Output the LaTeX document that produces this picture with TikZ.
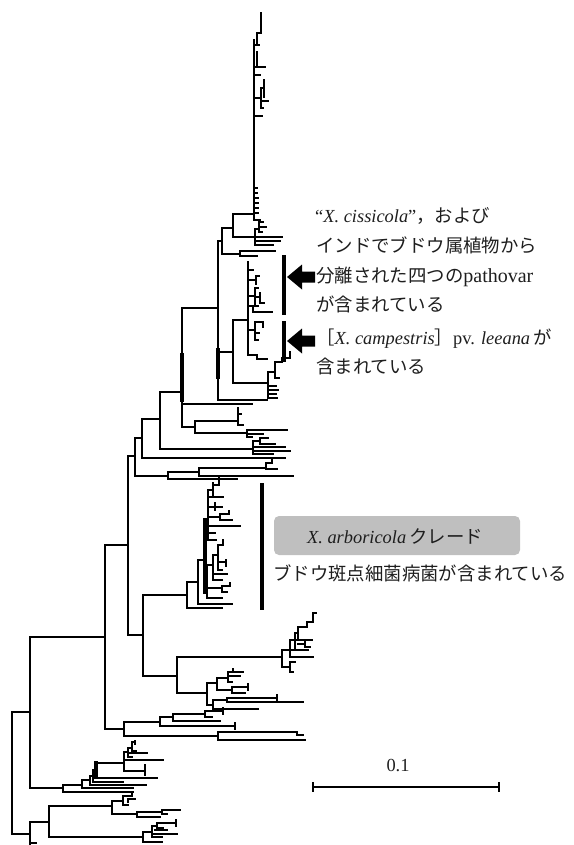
\documentclass[tikz,border=0pt]{standalone}
\usepackage{fontspec}
\setmainfont{Liberation Serif}
\newfontfamily\jp{Noto Sans CJK JP}
\definecolor{boxgray}{RGB}{191,191,191}
\definecolor{txt}{RGB}{30,30,30}
\tikzset{
  tr/.style={line width=2pt, line cap=rect},
  trk/.style={line width=3.8pt, line cap=rect},
  barline/.style={line width=4pt},
  lbl/.style={inner sep=0pt, anchor=base west, text=txt, font=\fontsize{18.4}{30}\selectfont},
  blockarrow/.style={fill=black, draw=none}
}
\newcommand\HB[3]{\draw[tr] (#2,#1) -- (#3,#1);}
\newcommand\VB[3]{\draw[tr] (#1,#2) -- (#1,#3);}
\newcommand\VK[3]{\draw[trk] (#1,#2) -- (#1,#3);}
\begin{document}
\begin{tikzpicture}[x=1pt,y=-1pt]
\useasboundingbox (0,0) rectangle (573,845);
% ---------------- backbone
\VB{12}{712}{834}
\HB{712}{12}{30}
\HB{834}{12}{30}
\VB{30}{637}{788}
\HB{637}{30}{105}
\HB{788}{30}{63}
\VB{105}{545}{729}
\HB{545}{105}{128}
\HB{729}{105}{124}
\VB{128}{456}{635}
\HB{456}{128}{135}
\HB{635}{128}{143}
\VB{135}{438}{476}
\HB{438}{135}{142}
\HB{476}{135}{168}
\VB{142}{419}{458}
\HB{419}{142}{160}
\HB{458}{142}{285}
\VB{160}{392}{449}
\HB{392}{160}{182}
\HB{449}{160}{253}
\VB{182}{308}{427}
\VK{182}{355}{400}
\HB{308}{182}{218}
\HB{404}{182}{252}
\HB{427}{182}{195}
\VB{195}{421}{433}
\HB{421}{195}{238}
\HB{433}{195}{247}
\VB{238}{408}{425}
\HB{425}{238}{243}
\HB{414}{238}{241}
\VB{247}{430}{437}
\HB{430}{247}{287}
\HB{434}{247}{263}
\HB{437}{247}{252}
% cluster 253
\VB{253}{441}{454}
\HB{441}{253}{260}
\VB{260}{438}{444}
\HB{438}{260}{268}
\HB{444}{260}{275}
\HB{447}{253}{285}
\HB{451}{253}{290}
\HB{454}{253}{273}
% node 168
\VB{168}{472}{479}
\HB{472}{168}{199}
\HB{479}{168}{237}
\VB{199}{468}{476}
\HB{468}{199}{266}
\HB{476}{199}{293}
\VB{266}{463}{469}
\HB{463}{266}{272}
\VB{272}{459}{463}
\HB{469}{266}{277}
% ---------------- node 218 (upper clades)
\VB{218}{241}{400}
\VK{218}{350}{377}
\HB{241}{218}{222}
\HB{352}{218}{233}
\HB{400}{218}{267}
\VB{222}{228}{254}
\HB{228}{222}{233}
\HB{254}{222}{240}
\VB{240}{251}{256}
\HB{251}{240}{275}
\HB{256}{240}{257}
\VB{233}{214}{237}
\HB{214}{233}{254}
\VB{255}{229}{245}
\HB{229}{255}{259}
\VB{259}{222}{232}
\HB{222}{259}{263}
\HB{227}{259}{266}
\HB{232}{259}{262}
\HB{237}{233}{282}
\HB{241}{255}{280}
\HB{245}{255}{273}
% top ladder
\VB{254}{40}{220}
\HB{220}{254}{260}
\HB{188}{254}{257}
\HB{193}{254}{257}
\HB{198}{254}{258}
\HB{203}{254}{258}
\HB{208}{254}{258}
\HB{213}{254}{258}
\HB{116}{254}{262}
\HB{98}{254}{261}
\VB{261}{88}{108}
\HB{88}{261}{264}
\VB{264}{80}{97}
\HB{101}{261}{268}
\HB{108}{261}{263}
\HB{67}{254}{265}
\VB{257}{52}{67}
\HB{75}{254}{260}
\HB{45}{254}{259}
\VB{257}{33}{45}
\HB{33}{257}{261}
\VB{261}{13}{33}
% node 233 lower
\VB{233}{320}{383}
\HB{320}{233}{248}
\HB{383}{233}{268}
\VB{248}{262}{355}
\HB{270}{248}{253}
\HB{280}{248}{256}
\VB{256}{276}{284}
\HB{276}{256}{259}
\HB{296}{248}{255}
\VB{255}{288}{305}
\HB{288}{255}{258}
\HB{297}{255}{260}
\VB{260}{293}{303}
\HB{303}{260}{264}
\VB{253}{306}{312}
\HB{306}{248}{258}
\HB{312}{253}{272}
\HB{330}{248}{255}
\VB{255}{322}{340}
\HB{322}{255}{263}
\VB{263}{322}{327}
\HB{333}{255}{259}
\HB{340}{255}{258}
\HB{355}{248}{257}
\VB{257}{355}{359}
\HB{359}{257}{267}
% node 268
\VB{268}{372}{398}
\HB{372}{268}{275}
\VB{275}{362}{378}
\HB{362}{275}{282}
\VB{282}{358}{362}
\HB{358}{282}{290}
\VB{290}{352}{358}
\HB{378}{275}{279}
\HB{386}{268}{276}
\HB{390}{268}{278}
\HB{394}{268}{276}
\HB{398}{268}{277}
% ---------------- arboricola part
\HB{595}{143}{187}
\VB{143}{595}{676}
\HB{676}{143}{177}
\VB{177}{657}{693}
\HB{657}{177}{282}
\HB{693}{177}{207}
\VB{187}{582}{608}
\HB{582}{187}{198}
\HB{608}{187}{222}
\VB{198}{560}{604}
\HB{604}{198}{232}
\HB{560}{198}{204}
\VB{204}{527}{593}
\VK{205}{520}{592}
\HB{527}{204}{208}
\HB{593}{204}{207}
\VB{208}{490}{540}
\HB{490}{208}{213}
\VB{213}{483}{497}
\HB{485}{213}{219}
\VB{219}{478}{485}
\HB{497}{208}{223}
\HB{507}{208}{222}
\VB{215}{503}{510}
\HB{517}{208}{220}
\VB{220}{514}{520}
\HB{514}{220}{229}
\VB{229}{511}{514}
\HB{520}{220}{232}
\HB{526}{208}{240}
\HB{533}{208}{215}
\HB{540}{208}{216}
\VB{207}{565}{598}
\HB{565}{207}{213}
\VB{213}{555}{580}
\HB{555}{213}{218}
\VB{218}{545}{570}
\HB{545}{218}{223}
\VB{223}{540}{545}
\HB{562}{218}{226}
\VB{226}{560}{566}
\HB{570}{218}{222}
\HB{574}{213}{227}
\HB{580}{213}{222}
\HB{588}{207}{222}
\VB{222}{586}{592}
\HB{586}{222}{230}
\VB{230}{583}{586}
\HB{592}{222}{227}
\HB{598}{207}{222}
% cluster 282
\VB{282}{650}{667}
\HB{650}{282}{308}
\VB{290}{640}{657}
\HB{640}{290}{312}
\VB{295}{633}{650}
\HB{633}{295}{298}
\VB{298}{627}{640}
\HB{627}{298}{307}
\VB{307}{622}{627}
\HB{622}{307}{313}
\VB{313}{613}{622}
\HB{613}{313}{316}
\VB{305}{641}{647}
\HB{644}{298}{305}
\HB{647}{305}{310}
\HB{657}{290}{313}
\HB{667}{282}{290}
\VB{290}{662}{672}
\HB{662}{290}{295}
\HB{672}{290}{293}
% cluster 207
\VB{207}{683}{705}
\HB{683}{207}{217}
\VB{217}{678}{690}
\HB{678}{217}{228}
\VB{228}{672}{682}
\HB{672}{228}{243}
\VB{233}{669}{672}
\HB{676}{228}{240}
\HB{682}{228}{232}
\HB{690}{217}{232}
\VB{232}{687}{693}
\HB{687}{232}{248}
\VB{248}{684}{690}
\HB{693}{232}{245}
\HB{705}{207}{213}
\VB{213}{700}{709}
\HB{700}{213}{227}
\VB{227}{698}{702}
\HB{698}{227}{277}
\VB{277}{695}{701}
\HB{702}{227}{303}
\HB{709}{213}{258}
% node 124
\VB{124}{722}{736}
\HB{722}{124}{160}
\HB{736}{124}{218}
\VB{160}{717}{726}
\HB{717}{160}{173}
\HB{726}{160}{235}
\VB{235}{723}{729}
\VB{173}{714}{721}
\HB{714}{173}{205}
\HB{721}{173}{220}
\VB{205}{711}{717}
\HB{711}{205}{223}
\VB{223}{708}{714}
\HB{717}{205}{212}
\VB{218}{732}{740}
\HB{732}{218}{297}
\VB{297}{732}{735}
\HB{735}{297}{303}
\HB{740}{218}{305}
% lower group 63
\VB{63}{785}{792}
\HB{785}{63}{82}
\HB{792}{63}{133}
\VB{82}{780}{788}
\HB{780}{82}{90}
\HB{788}{82}{133}
\VB{90}{776}{785}
\HB{776}{90}{93}
\HB{785}{90}{146}
\VB{93}{770}{782}
\HB{770}{93}{96}
\HB{778}{93}{157}
\HB{782}{93}{123}
\VK{96}{763}{775}
\HB{763}{96}{124}
\VB{124}{752}{771}
\HB{752}{124}{128}
\VB{128}{748}{757}
\HB{748}{128}{132}
\VB{132}{742}{751}
\HB{742}{132}{135}
\VB{135}{741}{744}
\HB{751}{132}{136}
\HB{753}{128}{147}
\HB{757}{128}{132}
\HB{760}{124}{163}
\HB{771}{124}{145}
\VB{145}{765}{775}
% bottom group
\VB{30}{822}{845}
\HB{822}{30}{49}
\HB{843}{30}{36}
\VB{49}{806}{837}
\HB{806}{49}{112}
\HB{837}{49}{143}
\VB{112}{801}{814}
\HB{801}{112}{123}
\VB{123}{796}{805}
\HB{796}{123}{132}
\VB{132}{793}{796}
\HB{799}{128}{135}
\VB{128}{799}{802}
\HB{805}{123}{128}
\HB{814}{112}{137}
\VB{137}{812}{817}
\HB{812}{137}{162}
\VB{162}{810}{814}
\HB{810}{162}{180}
\HB{814}{162}{167}
\HB{817}{137}{160}
\VB{143}{832}{842}
\HB{832}{143}{152}
\VB{152}{826}{837}
\HB{826}{152}{157}
\VB{157}{823}{830}
\HB{823}{157}{176}
\VB{176}{820}{826}
\HB{828}{157}{163}
\HB{830}{155}{167}
\HB{834}{152}{177}
\HB{837}{152}{162}
\HB{842}{143}{162}
% ---------------- annotations
\coordinate (bar1a) at (284,255);
\coordinate (bar1b) at (284,315);
\coordinate (bar2a) at (284,321);
\coordinate (bar2b) at (284,362);
\coordinate (bar3a) at (262,483);
\coordinate (bar3b) at (262,610);
\draw[barline] (bar1a) -- (bar1b);
\draw[barline] (bar2a) -- (bar2b);
\draw[barline] (bar3a) -- (bar3b);
\fill[blockarrow] (287,277) -- (302,264.5) -- (302,271.5) -- (315,271.5) -- (315,282.5) -- (302,282.5) -- (302,289.5) -- cycle;
\fill[blockarrow] (287,341) -- (302,328.5) -- (302,335.5) -- (315,335.5) -- (315,346.5) -- (302,346.5) -- (302,353.5) -- cycle;
\node[lbl] (t1) at (315,222) {“\textit{X. cissicola}”{\jp ，および}};
\node[lbl] (t2) at (316,252) {{\jp インドでブドウ属植物から}};
\node[lbl] (t3) at (316,282) {{\jp 分離された四つの}\fontsize{20}{30}\selectfont pathovar};
\node[lbl] (t4) at (316,311) {{\jp が含まれている}};
\node[lbl] (t5) at (316,344) {{\jp ［}\textit{X. campestris}{\jp ］}pv. \textit{leeana}\,{\jp が}};
\node[lbl] (t6) at (316,373) {{\jp 含まれている}};
\fill[boxgray, rounded corners=5pt] (274,516) rectangle (520,555);
\node[lbl, anchor=base] (box) at (395,543) {\textit{X. arboricola}\,{\jp クレード}};
\node[lbl] (t7) at (273,580) {{\jp ブドウ斑点細菌病菌が含まれている}};
\coordinate (sa) at (313,787);
\coordinate (sb) at (499,787);
\draw[line width=2pt] (sa) -- (sb);
\draw[line width=1.6pt] (313,782) -- (313,792);
\draw[line width=1.6pt] (499,782) -- (499,792);
\node[lbl, anchor=base] (scale) at (398,771) {0.1};
\end{tikzpicture}
\end{document}
